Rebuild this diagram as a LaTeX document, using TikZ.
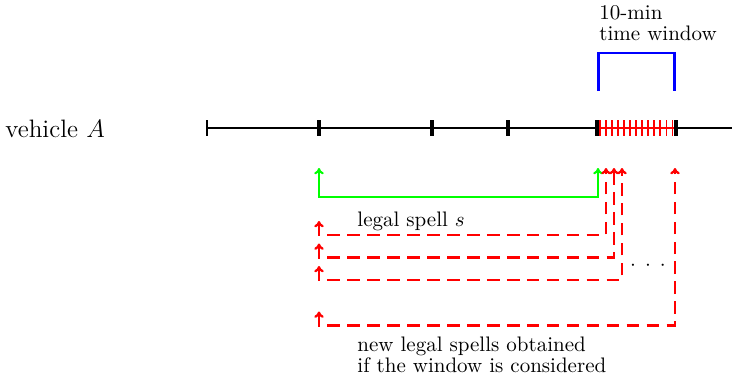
\documentclass[tikz,border=0pt]{standalone}
\usetikzlibrary{arrows.meta}
\begin{document}
\begin{tikzpicture}[x=0.476pt,y=-0.476pt,
  axis/.style={line width=1pt},
  endtick/.style={line width=0.7pt},
  bigtick/.style={line width=1.5pt},
  redtick/.style={red,line width=0.9pt},
  redaxis/.style={red,line width=1pt},
  window/.style={blue,line width=1pt},
  spell/.style={green,line width=1pt,<->},
  newspell/.style={red,line width=1.1pt,dash pattern=on 6pt off 3.5pt,<->},
  lbl/.style={inner sep=0pt,anchor=base west,align=left,font=\fontsize{10pt}{10pt}\selectfont},
  >={To[length=3pt,width=4.5pt]}]
\useasboundingbox (0,0) rectangle (732,378);
% time axis
\coordinate (L) at (207,128);
\coordinate (R) at (732,128);
\draw[axis] (L) -- (R);
\draw[endtick] (207,120) -- (207,136);
\draw[redaxis] (599,128) -- (674,128);
\foreach \i in {0,...,12}
  \draw[redtick] ({600+\i*6.04},120) -- ({600+\i*6.04},136);
\foreach \x in {319,432,508,597,676}
  \draw[bigtick] (\x,120) -- (\x,136);
% window bracket
\draw[window] (598.5,91) -- (598.5,53) -- (674.5,53) -- (674.5,91);
% labels (base anchor = baseline of the last line)
\node[inner sep=0pt,anchor=base west,font=\large] (veh) at (5,137) {vehicle $A$};
\node[lbl] (win) at (599,40.5) {10-min\\time window};
\node[lbl] (ls) at (357,226) {legal spell $s$};
\node[lbl] (nls) at (357,372) {new legal spells obtained\\if the window is considered};
\node[inner sep=0pt,anchor=base] (dots) at (648,270)
  {\makebox[7.1pt]{$\cdot$}\makebox[7.1pt]{$\cdot$}\makebox[7.1pt]{$\cdot$}};
% spells
\coordinate (g1) at (319,168); \coordinate (g2) at (319,197);
\coordinate (g3) at (598,197); \coordinate (g4) at (598,168);
\draw[spell] (g1) -- (g2) -- (g3) -- (g4);
\coordinate (a1) at (319,221); \coordinate (a2) at (319,235);
\coordinate (a3) at (606,235); \coordinate (a4) at (606,168);
\draw[newspell] (a1) -- (a2) -- (a3) -- (a4);
\coordinate (b1) at (319,243.5); \coordinate (b2) at (319,257.5);
\coordinate (b3) at (614,257.5); \coordinate (b4) at (614,168);
\draw[newspell] (b1) -- (b2) -- (b3) -- (b4);
\coordinate (c1) at (319,266); \coordinate (c2) at (319,280);
\coordinate (c3) at (622,280); \coordinate (c4) at (622,168);
\draw[newspell] (c1) -- (c2) -- (c3) -- (c4);
\coordinate (d1) at (319,311.5); \coordinate (d2) at (319,325.5);
\coordinate (d3) at (675,325.5); \coordinate (d4) at (675,168);
\draw[newspell] (d1) -- (d2) -- (d3) -- (d4);
\end{tikzpicture}
\end{document}
